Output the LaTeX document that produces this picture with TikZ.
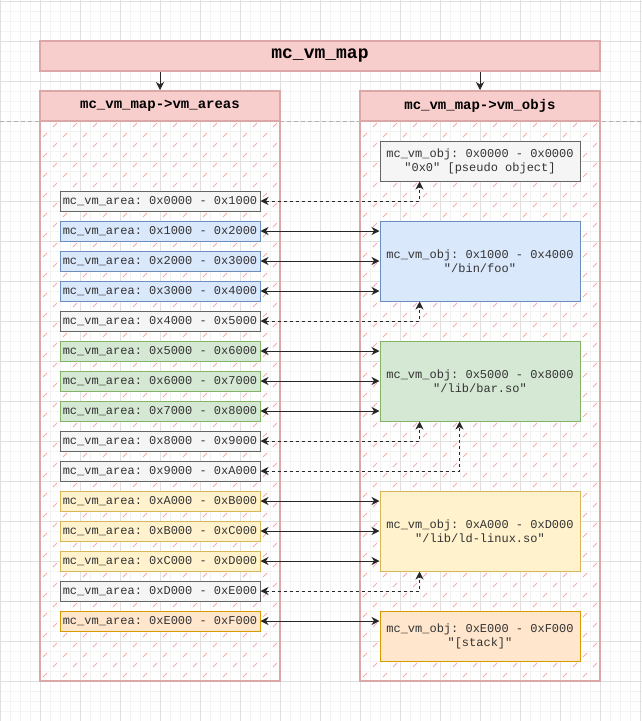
\documentclass[tikz,border=0pt]{standalone}
\usepackage{fontspec}
\setmonofont{Liberation Mono}
\usetikzlibrary{arrows.meta}
\definecolor{lanefill}{HTML}{F8CECC}
\definecolor{lanedraw}{HTML}{DCA8A7}
\definecolor{hatchcol}{HTML}{F5ACAC}
\definecolor{grayfill}{HTML}{F5F5F5}
\definecolor{graydraw}{HTML}{666666}
\definecolor{bluefill}{HTML}{DAE8FC}
\definecolor{bluedraw}{HTML}{6C8EBF}
\definecolor{greenfill}{HTML}{D5E8D4}
\definecolor{greendraw}{HTML}{82B366}
\definecolor{yellowfill}{HTML}{FFF2CC}
\definecolor{yellowdraw}{HTML}{D6B656}
\definecolor{orangefill}{HTML}{FFE6CC}
\definecolor{orangedraw}{HTML}{D79B00}
\definecolor{txt}{HTML}{333333}
\definecolor{minorcol}{HTML}{F3F3F3}
\definecolor{majorcol}{HTML}{E0E0E0}
\definecolor{breakcol}{HTML}{B0B0B0}

\begin{document}
\begin{tikzpicture}[x=1pt, y=-1pt,
    gridminor/.style={draw=minorcol, line width=1pt},
    gridmajor/.style={draw=majorcol, line width=1pt},
    area/.style={draw, line width=1pt, minimum width=200pt, minimum height=20pt, inner sep=0pt, text=txt, font=\ttfamily\fontsize{12}{14}\selectfont},
    obj/.style={draw, line width=1pt, minimum width=200pt, inner sep=0pt, align=center, text=txt, font=\ttfamily\fontsize{12}{14}\selectfont},
    grayb/.style={fill=grayfill, draw=graydraw},
    blueb/.style={fill=bluefill, draw=bluedraw},
    greenb/.style={fill=greenfill, draw=greendraw},
    yellowb/.style={fill=yellowfill, draw=yellowdraw},
    orangeb/.style={fill=orangefill, draw=orangedraw},
    lanehead/.style={fill=lanefill, draw=lanedraw, line width=2pt, minimum width=240pt, minimum height=30pt, inner sep=0pt, font=\ttfamily\bfseries\fontsize{14}{16}\selectfont},
    lanebody/.style={draw=lanedraw, line width=2pt, minimum width=240pt, minimum height=590pt, inner sep=0pt},
    link/.style={{Stealth[length=8pt,width=8pt,inset=2.5pt]}-{Stealth[length=8pt,width=8pt,inset=2.5pt]}, line width=1pt, black!85},
    ref/.style={link, dash pattern=on 3pt off 3pt}]

  \fill[white] (0,0) rectangle (642,721);
  \useasboundingbox (0,0) rectangle (642,721);

  % grid
  \foreach \x in {0,10,...,640} \draw[gridminor] (\x,0) -- (\x,721);
  \foreach \y in {1,11,...,721} \draw[gridminor] (0,\y) -- (642,\y);
  \foreach \x in {0,40,...,640} \draw[gridmajor] (\x,0) -- (\x,721);
  \foreach \y in {1,41,...,721} \draw[gridmajor] (0,\y) -- (642,\y);
  \draw[breakcol, dash pattern=on 4pt off 3pt] (0,121) -- (642,121);

  % hatch
  \begin{scope}
    \clip (40,121) rectangle (280,681) (360,121) rectangle (600,681);
    \foreach \c in {160,180,...,1280}
      \draw[hatchcol, line width=1pt, dash pattern=on 5.657pt off 8.485pt, dash phase=2.83pt] (\c-685,685) -- (\c-115,115);
  \end{scope}

  % lanes
  \node[lanebody] (areasbox) at (160,386) {};
  \node[lanebody] (objsbox) at (480,386) {};
  \node[lanehead] (hdra) at (160,106) {mc\_vm\_map->vm\_areas};
  \node[lanehead] (hdro) at (480,106) {mc\_vm\_map->vm\_objs};
  \node[lanehead, minimum width=560pt, line width=1.5pt, font=\ttfamily\bfseries\fontsize{18}{20}\selectfont] (map) at (320,56) {mc\_vm\_map};
  \draw[-{Stealth[length=8pt,width=8pt,inset=2.5pt]}, line width=1pt, black!85] (hdra.north |- map.south) -- (hdra.north);
  \draw[-{Stealth[length=8pt,width=8pt,inset=2.5pt]}, line width=1pt, black!85] (hdro.north |- map.south) -- (hdro.north);

  % areas
  \node[area, grayb] (a0) at (160,201) {mc\_vm\_area: 0x0000 - 0x1000};
  \node[area, blueb] (a1) at (160,231) {mc\_vm\_area: 0x1000 - 0x2000};
  \node[area, blueb] (a2) at (160,261) {mc\_vm\_area: 0x2000 - 0x3000};
  \node[area, blueb] (a3) at (160,291) {mc\_vm\_area: 0x3000 - 0x4000};
  \node[area, grayb] (a4) at (160,321) {mc\_vm\_area: 0x4000 - 0x5000};
  \node[area, greenb] (a5) at (160,351) {mc\_vm\_area: 0x5000 - 0x6000};
  \node[area, greenb] (a6) at (160,381) {mc\_vm\_area: 0x6000 - 0x7000};
  \node[area, greenb] (a7) at (160,411) {mc\_vm\_area: 0x7000 - 0x8000};
  \node[area, grayb] (a8) at (160,441) {mc\_vm\_area: 0x8000 - 0x9000};
  \node[area, grayb] (a9) at (160,471) {mc\_vm\_area: 0x9000 - 0xA000};
  \node[area, yellowb] (a10) at (160,501) {mc\_vm\_area: 0xA000 - 0xB000};
  \node[area, yellowb] (a11) at (160,531) {mc\_vm\_area: 0xB000 - 0xC000};
  \node[area, yellowb] (a12) at (160,561) {mc\_vm\_area: 0xC000 - 0xD000};
  \node[area, grayb] (a13) at (160,591) {mc\_vm\_area: 0xD000 - 0xE000};
  \node[area, orangeb] (a14) at (160,621) {mc\_vm\_area: 0xE000 - 0xF000};

  % objects
  \node[obj, grayb, minimum height=40pt] (o0) at (480,161) {mc\_vm\_obj: 0x0000 - 0x0000\\"0x0" [pseudo object]};
  \node[obj, blueb, minimum height=80pt] (o1) at (480,261) {mc\_vm\_obj: 0x1000 - 0x4000\\"/bin/foo"};
  \node[obj, greenb, minimum height=80pt] (o2) at (480,381) {mc\_vm\_obj: 0x5000 - 0x8000\\"/lib/bar.so"};
  \node[obj, yellowb, minimum height=80pt] (o3) at (480,531) {mc\_vm\_obj: 0xA000 - 0xD000\\"/lib/ld-linux.so"};
  \node[obj, orangeb, minimum height=50pt] (o4) at (480,636) {mc\_vm\_obj: 0xE000 - 0xF000\\"[stack]"};

  % mapped areas
  \draw[link] (a1.east) -- (a1.east -| o1.west);
  \draw[link] (a2.east) -- (a2.east -| o1.west);
  \draw[link] (a3.east) -- (a3.east -| o1.west);
  \draw[link] (a5.east) -- (a5.east -| o2.west);
  \draw[link] (a6.east) -- (a6.east -| o2.west);
  \draw[link] (a7.east) -- (a7.east -| o2.west);
  \draw[link] (a10.east) -- (a10.east -| o3.west);
  \draw[link] (a11.east) -- (a11.east -| o3.west);
  \draw[link] (a12.east) -- (a12.east -| o3.west);
  \draw[link] (a14.east) -- (a14.east -| o4.west);

  % gaps
  \draw[ref] (a0.east) -| ([xshift=40pt]o0.south west);
  \draw[ref] (a4.east) -| ([xshift=40pt]o1.south west);
  \draw[ref] (a8.east) -| ([xshift=40pt]o2.south west);
  \draw[ref] (a9.east) -| ([xshift=80pt]o2.south west);
  \draw[ref] (a13.east) -| ([xshift=40pt]o3.south west);
\end{tikzpicture}
\end{document}
